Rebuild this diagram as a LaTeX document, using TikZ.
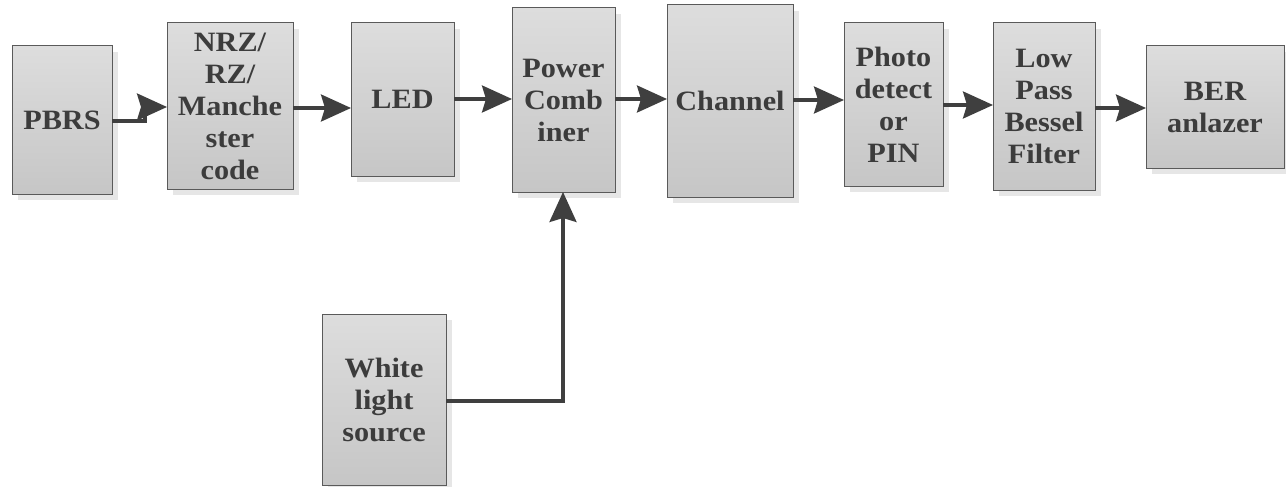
\documentclass[tikz,border=0pt]{standalone}
\usepackage{fontspec}
\setmainfont{Liberation Serif}[FakeStretch=1.08]
\usetikzlibrary{arrows.meta,shadows}
\definecolor{txt}{HTML}{3C3C3C}
\definecolor{edge}{HTML}{5A5A5A}
\definecolor{arrc}{HTML}{3F3F3F}
\definecolor{topc}{HTML}{DDDDDD}
\definecolor{botc}{HTML}{C6C6C6}
\definecolor{shad}{HTML}{E6E6E6}
\tikzset{
  blk/.style={draw=edge, line width=1pt, rectangle, inner sep=0pt, outer sep=0pt,
    anchor=north west, align=center, text=txt,
    font=\fontsize{28}{32}\selectfont\bfseries,
    top color=topc, bottom color=botc,
    general shadow={fill=shad, shadow xshift=6pt, shadow yshift=-6pt}},
  arr/.style={draw=arrc, line width=3.2pt,
    -{Stealth[length=30pt,width=27pt,inset=4pt]}},
}
\begin{document}
\begin{tikzpicture}[x=1pt,y=-1pt]
\useasboundingbox (0,0) rectangle (1286,487);
\node[blk, minimum width=100pt, minimum height=148pt] (pbrs) at (12,46) {PBRS};
\node[blk, minimum width=126pt, minimum height=166pt] (nrz) at (167,23) {NRZ/\\RZ/\\Manche\\ster\\code};
\node[blk, minimum width=103pt, minimum height=153pt] (led) at (351,23) {LED};
\node[blk, minimum width=103pt, minimum height=184pt] (pc) at (512,8) {Power\\Comb\\iner};
\node[blk, minimum width=126pt, minimum height=192pt] (ch) at (667,5) {Channel};
\node[blk, minimum width=99pt, minimum height=163pt] (pd) at (844,23) {Photo\\detect\\or\\PIN};
\node[blk, minimum width=102pt, minimum height=167pt] (lpf) at (993,23) {Low\\Pass\\Bessel\\Filter};
\node[blk, minimum width=138pt, minimum height=122pt] (ber) at (1146,46) {BER\\anlazer};
\node[blk, minimum width=124pt, minimum height=171pt] (wls) at (322,314) {White\\light\\source};

\coordinate (j1) at (145,114);
\coordinate (j2) at (563,401);
\draw[arr] (pbrs.east |- 0,121) -| (j1) |- (nrz.west |- 0,107);
\draw[arr] (nrz.east |- 0,108) -- (led.west |- 0,108);
\draw[arr] (led.east |- 0,99) -- (pc.west |- 0,99);
\draw[arr] (pc.east |- 0,99) -- (ch.west |- 0,99);
\draw[arr] (ch.east |- 0,100) -- (pd.west |- 0,100);
\draw[arr] (pd.east |- 0,105) -- (lpf.west |- 0,105);
\draw[arr] (lpf.east |- 0,108) -- (ber.west |- 0,108);
\draw[arr] (wls.east |- j2) -- (j2) -- (j2 |- pc.south);
\end{tikzpicture}
\end{document}
